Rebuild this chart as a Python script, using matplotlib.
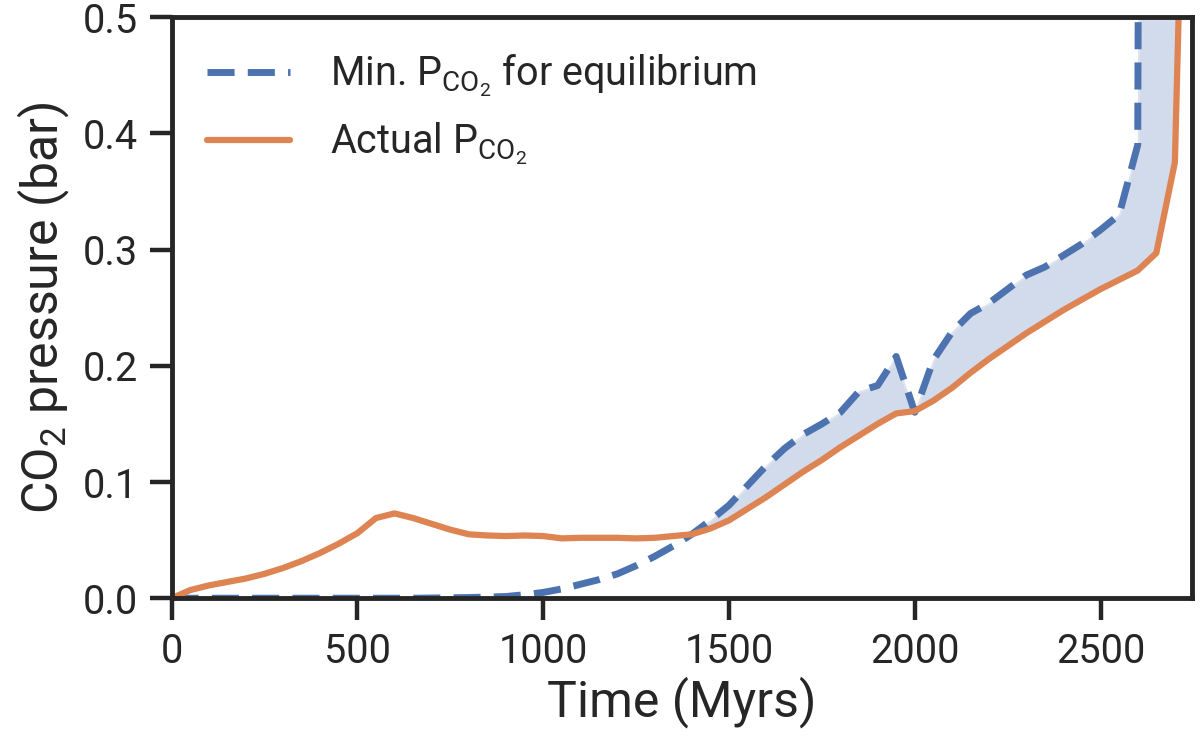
import numpy as np
import matplotlib
matplotlib.use('Agg')
import matplotlib.pyplot as plt
import seaborn as sns

sns.set_style('ticks')
plt.rcParams['font.family'] = ['Roboto', 'DejaVu Sans']
plt.rcParams['mathtext.fontset'] = 'custom'
plt.rcParams['mathtext.rm'] = 'Roboto'
plt.rcParams['mathtext.it'] = 'Roboto:italic'
plt.rcParams['mathtext.default'] = 'regular'

# time steps (Myrs)
time = [0, 50, 100, 150, 200, 250, 300, 350, 400, 450, 500, 550, 600, 650, 700,
        750, 800, 850, 900, 950, 1000, 1050, 1100, 1150, 1200, 1250, 1300, 1350,
        1400, 1450, 1500, 1550, 1600, 1650, 1700, 1750, 1800, 1850, 1900, 1950,
        2000, 2050, 2100, 2150, 2200, 2250, 2300, 2350, 2400, 2450, 2500, 2550,
        2600, 2650, 2700, 2750]

# minimum CO2 pressure for equilibrium (bar)
p_min = [0.0, 0.0, 0.0, 0.0, 0.0, 0.0, 0.0, 0.0, 0.0, 0.0, 0.0, 0.0, 0.0, 0.0, 0.0002,
         0.0004, 0.0006, 0.001, 0.0015, 0.003, 0.005, 0.008, 0.012, 0.016, 0.021,
         0.028, 0.036, 0.045, 0.055, 0.067, 0.080, 0.097, 0.114, 0.129, 0.141,
         0.150, 0.160, 0.178, 0.183, 0.208, 0.160, 0.205, 0.229, 0.245, 0.254,
         0.266, 0.278, 0.285, 0.295, 0.305, 0.317, 0.330, 0.390, 5.0, 6.0, 7.0]

# actual CO2 pressure (bar)
p_actual = [0.0, 0.007, 0.011, 0.014, 0.017, 0.021, 0.026, 0.032, 0.039, 0.047,
            0.056, 0.069, 0.073, 0.069, 0.064, 0.059, 0.055, 0.054, 0.0535, 0.054,
            0.0535, 0.0515, 0.052, 0.052, 0.052, 0.0515, 0.052, 0.0535, 0.055,
            0.060, 0.067, 0.077, 0.087, 0.098, 0.109, 0.119, 0.130, 0.140, 0.150,
            0.159, 0.161, 0.170, 0.181, 0.194, 0.206, 0.217, 0.228, 0.238, 0.248,
            0.257, 0.266, 0.274, 0.282, 0.297, 0.375, 1.0]

t = np.array(time)
pmin = np.array(p_min)
pact = np.array(p_actual)

blue = '#4C72B0'
orange = '#DD8452'

fig = plt.figure(figsize=(12, 7.45), dpi=100)
ax = fig.add_axes([0.143, 0.197, 0.85, 0.78])

ax.fill_between(t, pact, pmin, where=pmin > pact, interpolate=True,
                facecolor=blue, alpha=0.25, edgecolor='white', linewidth=3)
ax.plot(t, pmin, '--', color=blue, lw=5, dashes=(3.9, 1.9),
        label=r'Min. P$_{\mathrm{CO}_2}$ for equilibrium')
ax.plot(t, pact, '-', color=orange, lw=4.5, label=r'Actual P$_{\mathrm{CO}_2}$')

ax.set_xlim(0, 2745)
ax.set_ylim(0, 0.5)
ax.set_xticks([0, 500, 1000, 1500, 2000, 2500])
ax.set_yticks([0.0, 0.1, 0.2, 0.3, 0.4, 0.5])

ax.set_xlabel('Time (Myrs)', fontsize=36, color='#262626')
ax.set_ylabel(r'CO$_2$ pressure (bar)', fontsize=36, color='#262626', labelpad=8)
ax.tick_params(labelsize=28.5, length=16, width=3.2, colors='#262626', pad=8)
for s in ax.spines.values():
    s.set_linewidth(3.5)
    s.set_color('#262626')

ax.legend(loc='upper left', frameon=False, fontsize=28.5, handlelength=2.1,
          handletextpad=1.0, labelspacing=0.55)

fig.savefig('out.png', dpi=100)
